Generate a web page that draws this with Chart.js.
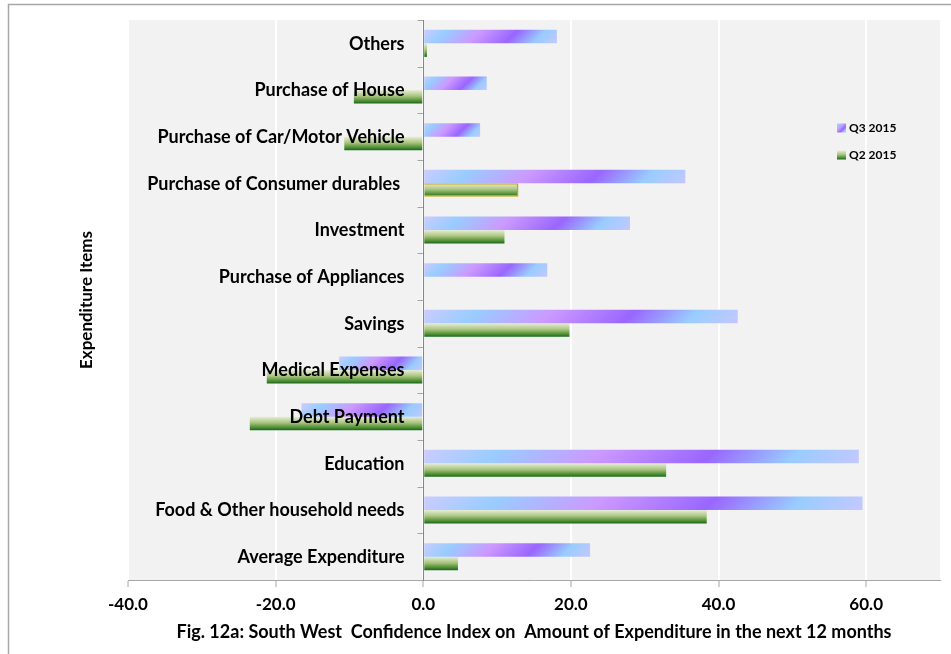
<!DOCTYPE html>
<html>
<head>
<meta charset="utf-8">
<script src="https://cdn.jsdelivr.net/npm/chart.js@4/dist/chart.umd.min.js"></script>
<style>
html,body{margin:0;padding:0;background:#fff;}
#wrap{position:relative;width:951px;height:654px;}
</style>
</head>
<body>
<div id="wrap"><canvas id="c" width="951" height="654"></canvas></div>
<script>
const categories = ['Others','Purchase of House','Purchase of Car/Motor Vehicle','Purchase of Consumer durables ','Investment','Purchase of Appliances','Savings','Medical Expenses','Debt Payment','Education','Food & Other household needs','Average Expenditure'];
const seriesNames = ['Q3 2015','Q2 2015'];
const q3Values = [18.1, 8.6, 7.7, 35.5, 28.0, 16.8, 42.6, -11.4, -16.5, 59.0, 59.5, 22.6];
const q2Values = [0.5, -9.4, -10.7, 12.9, 11.0, 0, 19.8, -21.2, -23.5, 32.9, 38.4, 4.7];
const xMin = -40, xMax = 70, xStep = 20;
const xTitle = 'Fig. 12a: South West  Confidence Index on  Amount of Expenditure in the next 12 months';
const yTitle = 'Expenditure Items';

const FONT = "Lato, 'Open Sans', sans-serif";
const CAT_PCT = 0.58;

function barRect(ctx, dsIndex) {
  const chart = ctx.chart;
  const xs = chart.scales.x, ys = chart.scales.y;
  if (!xs || !ys || !chart.chartArea) return null;
  const v = ctx.raw || 0;
  const x0 = xs.getPixelForValue(0), x1 = xs.getPixelForValue(v);
  const c = ys.getPixelForValue(ctx.dataIndex);
  const catH = ys.height / categories.length;
  const g = catH * CAT_PCT / 2;
  const top = dsIndex === 0 ? c - g : c;
  return {l: Math.min(x0, x1), r: Math.max(x0, x1), t: top, b: top + g};
}

function q3Gradient(c2d, l, r, t, b) {
  const w = r - l, h = b - t;
  const d = (w + h) / 2;
  const gr = c2d.createLinearGradient(l, t, l + d, t + d);
  gr.addColorStop(0, '#ccccff');
  gr.addColorStop(0.17, '#99ccff');
  gr.addColorStop(0.40, '#cc99ff');
  gr.addColorStop(0.65, '#9966ff');
  gr.addColorStop(0.84, '#99ccff');
  gr.addColorStop(1, '#c4c8ff');
  return gr;
}
function q2Gradient(c2d, t, b) {
  const gr = c2d.createLinearGradient(0, t, 0, b);
  gr.addColorStop(0, '#e6eed8');
  gr.addColorStop(0.45, '#a9c47e');
  gr.addColorStop(0.8, '#4f8f34');
  gr.addColorStop(1, '#16661a');
  return gr;
}

const bgPlugin = {
  id: 'bgPlugin',
  beforeDraw(chart) {
    const {ctx, chartArea: a} = chart;
    ctx.save();
    ctx.fillStyle = '#ffffff';
    ctx.fillRect(0, 0, chart.width, chart.height);
    ctx.strokeStyle = '#a6a6a6';
    ctx.lineWidth = 1.5;
    ctx.strokeRect(8.5, 4.5, 1100, 800);
    ctx.fillStyle = '#f2f2f2';
    ctx.fillRect(a.left, a.top, a.right - a.left, a.bottom - a.top);
    ctx.restore();
  },
  afterDatasetsDraw(chart) {
    const {ctx} = chart;
    const xs = chart.scales.x, ys = chart.scales.y;
    const ax = Math.round(xs.getPixelForValue(0)) + 0.5;
    ctx.save();
    ctx.strokeStyle = '#a6a6a6';
    ctx.lineWidth = 1;
    const n = categories.length;
    const catH = ys.height / n;
    ctx.beginPath();
    for (let i = 0; i <= n; i++) {
      const y = Math.round(ys.top + i * catH) + 0.5;
      ctx.moveTo(ax - 6, y);
      ctx.lineTo(ax, y);
    }
    ctx.stroke();
    ctx.font = "bold 18px " + FONT;
    ctx.fillStyle = '#000';
    ctx.textAlign = 'right';
    ctx.textBaseline = 'middle';
    ys.ticks.forEach((t, i) => {
      const y = ys.getPixelForValue(i);
      ctx.fillText(ys.getLabelForValue(t.value), ax - 19, y + 0.5);
    });
    ctx.restore();
  },
  afterDraw(chart) {
    const {ctx, chartArea: a} = chart;
    ctx.save();
    ctx.translate(87, (a.top + a.bottom) / 2);
    ctx.rotate(-Math.PI / 2);
    ctx.font = "bold 17px " + FONT;
    ctx.fillStyle = '#000';
    ctx.textAlign = 'center';
    ctx.textBaseline = 'middle';
    ctx.fillText(yTitle, 0, 0);
    ctx.restore();
    ctx.save();
    ctx.font = "bold 12px " + FONT;
    ctx.textBaseline = 'middle';
    ctx.textAlign = 'left';
    const lx = 837, ly = [128, 155], sw = 9;
    seriesNames.forEach((name, i) => {
      const t = ly[i] - sw / 2;
      ctx.fillStyle = i === 0 ? q3Gradient(ctx, lx, lx + sw, t, t + sw) : q2Gradient(ctx, t, t + sw);
      ctx.fillRect(lx, t, sw, sw);
      ctx.fillStyle = '#000';
      ctx.fillText(name, lx + 12, ly[i] + 0.5);
    });
    ctx.restore();
  }
};

new Chart(document.getElementById('c'), {
  type: 'bar',
  data: {
    labels: categories,
    datasets: [
      {
        label: seriesNames[0],
        data: q3Values,
        backgroundColor(ctx) {
          if (ctx.type !== 'data') return '#b399ff';
          const r = barRect(ctx, 0);
          if (!r) return '#b399ff';
          return q3Gradient(ctx.chart.ctx, r.l, r.r, r.t, r.b);
        },
        borderWidth: 0,
        categoryPercentage: CAT_PCT,
        barPercentage: 1.0
      },
      {
        label: seriesNames[1],
        data: q2Values,
        backgroundColor(ctx) {
          if (ctx.type !== 'data') return '#6aa84f';
          const r = barRect(ctx, 1);
          if (!r) return '#6aa84f';
          return q2Gradient(ctx.chart.ctx, r.t, r.b);
        },
        borderColor: '#c8a415',
        borderWidth(ctx) { return ctx.dataIndex === 3 ? 1.5 : 0; },
        categoryPercentage: CAT_PCT,
        barPercentage: 1.0
      }
    ]
  },
  options: {
    indexAxis: 'y',
    responsive: false,
    animation: false,
    layout: { padding: { left: 128, right: 11, top: 20, bottom: 11 } },
    plugins: {
      legend: { display: false },
      tooltip: { enabled: false },
      title: { display: false }
    },
    scales: {
      x: {
        type: 'linear',
        min: xMin,
        max: xMax,
        ticks: {
          stepSize: xStep,
          padding: 7,
          color: '#000',
          font: { family: FONT, size: 17, weight: 'bold' },
          callback: v => Number(v).toFixed(1)
        },
        afterBuildTicks(scale) {
          scale.ticks = scale.ticks.filter(t => Math.abs(t.value % xStep) < 1e-9);
        },
        grid: {
          color: '#ffffff',
          lineWidth: 2,
          tickColor: '#a6a6a6',
          tickWidth: 1,
          tickLength: 7
        },
        border: { display: true, color: '#a6a6a6', width: 1 },
        title: {
          display: true,
          text: xTitle,
          color: '#000',
          font: { family: FONT, size: 18, weight: 'bold' },
          padding: { top: 0, bottom: 0 }
        }
      },
      y: {
        type: 'category',
        position: { x: 0 },
        offset: true,
        ticks: { display: false },
        grid: {
          offset: true,
          drawOnChartArea: false,
          drawTicks: false
        },
        border: { display: true, color: '#868686', width: 1, z: 1 }
      }
    }
  },
  plugins: [bgPlugin]
});
</script>
</body>
</html>
